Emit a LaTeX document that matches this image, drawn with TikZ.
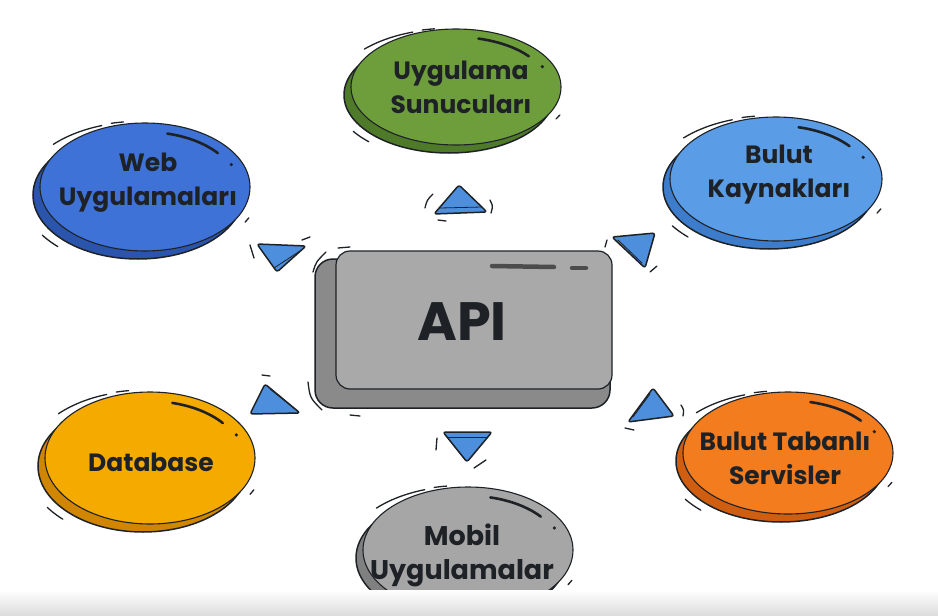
\documentclass[tikz,border=0pt]{standalone}
\usepackage{fontspec}
\setmainfont{Poppins}
\usetikzlibrary{shapes.geometric}
\definecolor{ink}{HTML}{1E2226}
\definecolor{greenF}{HTML}{6E9E3C}
\definecolor{greenS}{HTML}{4E7A2A}
\definecolor{webF}{HTML}{3F72D6}
\definecolor{webS}{HTML}{2B55AD}
\definecolor{cloudF}{HTML}{5A9CE6}
\definecolor{cloudS}{HTML}{3C7CCB}
\definecolor{dbF}{HTML}{F5AA00}
\definecolor{dbS}{HTML}{D08600}
\definecolor{orF}{HTML}{F27C1E}
\definecolor{orS}{HTML}{CF5E10}
\definecolor{moF}{HTML}{A6A6A6}
\definecolor{moS}{HTML}{808080}
\definecolor{triF}{HTML}{4D8FDC}
\definecolor{apiF}{HTML}{A9A9A9}
\definecolor{apiS}{HTML}{8A8A8A}
\tikzset{
  outline/.style={draw=ink, line width=1.5pt},
  sketch/.style={draw=ink, line width=1.3pt, line cap=round},
  hilite/.style={draw=ink, line width=2.6pt, line cap=round},
  label/.style={font=\bfseries\fontsize{25}{34}\selectfont, align=center, text=ink},
  biglabel/.style={font=\bfseries\fontsize{27}{34}\selectfont, align=center, text=ink},
  tri/.style={outline, fill=triF, rounded corners=2.5pt, line join=round},
  triline/.style={draw=ink, line width=0.8pt, line cap=round}
}
% #1 name, #2 cx, #3 cy, #4 rx, #5 ry, #6 face, #7 shade
\newcommand\blob[7]{%
  \node[ellipse, outline, fill=#7, minimum width=2*#4pt, minimum height=2*#5pt, inner sep=0pt] (#1s) at (#2-7,#3+8) {};
  \node[ellipse, outline, line width=1.1pt, fill=#6, minimum width=2*#4pt, minimum height=2*#5pt, inner sep=0pt] (#1) at (#2,#3) {};
  \draw[hilite] plot[domain=38:76, samples=20] ({#2+0.88*#4*cos(\x)},{#3-0.86*#5*sin(\x)});
  \fill[ink] ({#2+0.9*#4*cos(24)},{#3-0.86*#5*sin(24)}) circle (1.8pt);
  \draw[sketch] plot[domain=108:136, samples=15] ({#2-7+1.12*#4*cos(\x)},{#3+8-1.14*#5*sin(\x)});
  \draw[sketch] plot[domain=97:103, samples=5] ({#2-7+1.13*#4*cos(\x)},{#3+8-1.15*#5*sin(\x)});
  \draw[sketch] plot[domain=214:226, samples=8] ({#2-7+1.1*#4*cos(\x)},{#3+8-1.12*#5*sin(\x)});
  \draw[sketch] plot[domain=-30:-26, samples=4] ({#2+1.1*#4*cos(\x)},{#3-1.1*#5*sin(\x)});
}
\begin{document}
\begin{tikzpicture}[x=1pt,y=-1pt]
\useasboundingbox (0,0) rectangle (938,616);
\fill[white] (0,0) rectangle (938,616);

% ellipses
\blob{srv}{456}{87}{105}{58}{greenF}{greenS}
\blob{web}{145}{187}{105}{64}{webF}{webS}
\blob{cld}{776}{179}{106}{62}{cloudF}{cloudS}
\blob{db}{150}{458}{105}{66}{dbF}{dbS}
\blob{cbs}{788}{453}{105}{61}{orF}{orS}
\blob{mob}{468}{550}{105}{63}{moF}{moS}

% bottom fade band
\shade[top color=white, bottom color=black!14] (0,590) rectangle (938,616);

\node[label] (srvt) at (461,87) {Uygulama\\Sunucuları};
\node[label] (webt) at (148,183) {Web\\Uygulamaları};
\node[label] (cldt) at (779,175) {Bulut\\Kaynakları};
\node[label] (dbt)  at (151,462) {Database};
\node[label] (cbst) at (785,458) {Bulut Tabanlı\\Servisler};
\node[biglabel] (mobt) at (462,555) {Mobil\\Uygulamalar};

% API box
\draw[outline, fill=apiS, rounded corners=18pt] (315,259) rectangle (610,408);
\draw[outline, line width=1.2pt, fill=apiF, rounded corners=14pt] (336,251) rectangle (612,389);
\draw[draw=black!70, line width=4.5pt, line cap=round] (492,266) -- (554,267);
\draw[draw=black!70, line width=4.5pt, line cap=round] (572,268) -- (586,268);
\node[font=\bfseries\fontsize{54}{60}\selectfont, text=ink] (api) at (462,322) {API};
\draw[sketch] (313,272) .. controls (316,262) .. (326,252);
\draw[sketch] (338,248) -- (350,247);
\draw[sketch] (308,382) .. controls (310,398) .. (322,410);
\draw[sketch] (350,415) -- (360,416);

% triangles
\draw[tri] (459,185) -- (487,212) -- (434,214) -- cycle;
\draw[triline] (440,208) -- (482,207);
\draw[tri] (257,244) -- (306,246) -- (277,272) -- cycle;
\draw[triline] (300,251) -- (274,268);
\draw[tri] (612,237) -- (655,233) -- (645,268) -- cycle;
\draw[triline] (618,240) -- (642,263);
\draw[tri] (653,388) -- (674,416) -- (628,422) -- cycle;
\draw[triline] (650,394) -- (633,417);
\draw[tri] (443,432) -- (492,432) -- (467,462) -- cycle;
\draw[triline] (448,437) -- (487,437);
\draw[tri] (265,384) -- (300,413) -- (250,414) -- cycle;
\draw[triline] (270,389) -- (295,409);

% sketch marks near triangles
\draw[sketch] (425,208) .. controls (427,200) .. (433,194);
\draw[sketch] (490,200) .. controls (493,206) .. (491,213);
\draw[sketch] (438,220) -- (446,221);
\draw[sketch] (250,245) -- (254,258);
\draw[sketch] (302,240) -- (310,237);
\draw[sketch] (607,240) -- (605,247);
\draw[sketch] (650,272) -- (657,266);
\draw[sketch] (681,405) .. controls (684,410) .. (683,416);
\draw[sketch] (625,428) -- (634,430);
\draw[sketch] (437,438) -- (436,450);
\draw[sketch] (474,468) -- (486,460);
\draw[sketch] (262,375) -- (270,376);
\end{tikzpicture}
\end{document}
